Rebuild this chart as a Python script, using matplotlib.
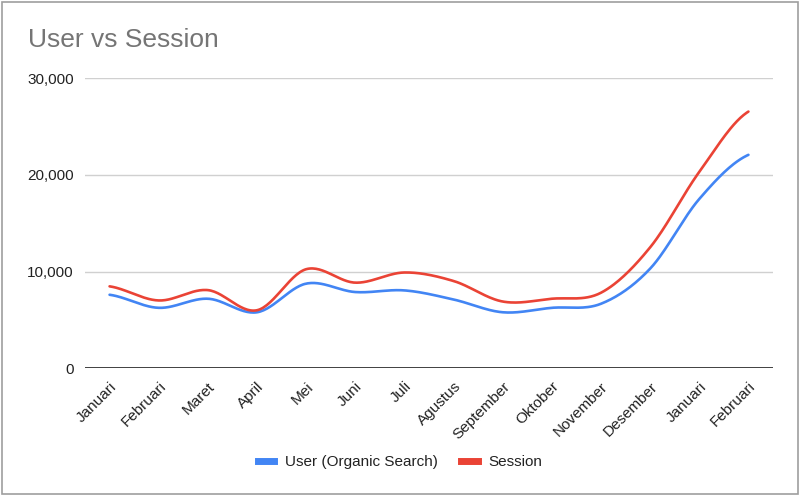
import matplotlib.pyplot as plt
import numpy as np
from matplotlib.lines import Line2D
from matplotlib.patches import Rectangle

plt.rcParams['font.family'] = ['Liberation Sans', 'DejaVu Sans']

months = ['Januari', 'Februari', 'Maret', 'April', 'Mei', 'Juni', 'Juli',
          'Agustus', 'September', 'Oktober', 'November', 'Desember',
          'Januari', 'Februari']
user = [7600, 6250, 7190, 5790, 8750, 7880, 8050,
        7110, 5790, 6250, 6670, 10300, 17500, 22060]
session = [8470, 7010, 8080, 6000, 10240, 8850, 9900,
           9020, 6900, 7190, 7810, 12500, 20300, 26530]

blue = '#4285F4'
red = '#EA4335'


def smooth(y, n=30, t=0.5):
    # cubic hermite through the points, slopes from neighbours (like sheets' smooth line)
    y = np.asarray(y, float)
    x = np.arange(len(y), dtype=float)
    m = np.zeros_like(y)
    m[1:-1] = t * (y[2:] - y[:-2])
    m[0] = t * (y[1] - y[0])
    m[-1] = t * (y[-1] - y[-2])
    xs, ys = [], []
    for i in range(len(y) - 1):
        s = np.linspace(0, 1, n, endpoint=False)
        h00 = 2*s**3 - 3*s**2 + 1
        h10 = s**3 - 2*s**2 + s
        h01 = -2*s**3 + 3*s**2
        h11 = s**3 - s**2
        xs.append(x[i] + s)
        ys.append(h00*y[i] + h10*m[i] + h01*y[i+1] + h11*m[i+1])
    xs.append([x[-1]])
    ys.append([y[-1]])
    return np.concatenate(xs), np.concatenate(ys)


fig = plt.figure(figsize=(8, 4.96), dpi=100)
ax = fig.add_axes([85/800, 1 - 368.3/496, 688/800, (368.3 - 78)/496])

xs, ys = smooth(user)
ax.plot(xs, ys, color=blue, lw=1.9, solid_capstyle='round')
xs, ys = smooth(session)
ax.plot(xs, ys, color=red, lw=1.9, solid_capstyle='round')

ax.set_xlim(-0.5, len(months) - 0.5)
ax.set_ylim(0, 30000)
ax.set_yticks([0, 10000, 20000, 30000])
ax.set_yticklabels(['{:,}'.format(v) for v in [0, 10000, 20000, 30000]])
ax.set_xticks(range(len(months)))
ax.set_xticklabels(months, rotation=45, ha='right', rotation_mode='anchor')
ax.tick_params(length=0, labelsize=11, colors='#222222')
ax.tick_params(axis='x', pad=8)
ax.tick_params(axis='y', pad=8)
for s in ax.spines.values():
    s.set_visible(False)
ax.grid(axis='y', color='#d0d0d0', lw=1)
ax.axhline(0, color='#333333', lw=1.3)

fig.text(28/800, 1 - 40/496, 'User vs Session', fontsize=19, color='#757575', va='center')

handles = [Line2D([], [], color=blue, lw=5), Line2D([], [], color=red, lw=5)]
fig.legend(handles, ['User (Organic Search)', 'Session'], loc='center',
           bbox_to_anchor=(0.5, 1 - 462/496), ncol=2, frameon=False,
           fontsize=11, handlelength=1.1, handletextpad=0.7, columnspacing=1.5,
           labelcolor='#222222')

fig.patches.append(Rectangle((2/800, 2/496), 796/800, 492/496, transform=fig.transFigure,
                             fill=False, edgecolor='#9e9e9e', lw=1.2))

fig.savefig('out.png', dpi=100)
